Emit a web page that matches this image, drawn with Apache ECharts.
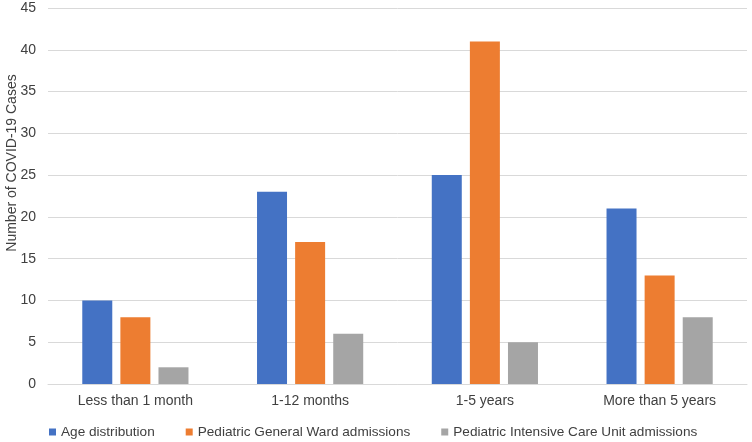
<!DOCTYPE html>
<html><head><meta charset="utf-8">
<script src="https://cdn.jsdelivr.net/npm/echarts@6/dist/echarts.min.js"></script>
<style>html,body{margin:0;padding:0;background:#fff}#c{width:752px;height:442px}</style>
</head><body><div id="c"></div>
<script>
const categories = ['Less than 1 month', '1-12 months', '1-5 years', 'More than 5 years'];
const ageDistribution = [10, 23, 25, 21];
const generalWard = [8, 17, 41, 13];
const icu = [2, 6, 5, 8];
const seriesNames = ['Age distribution', 'Pediatric General Ward admissions', 'Pediatric Intensive Care Unit admissions'];
const yTitle = 'Number of COVID-19 Cases';
const colors = ['#4472C4', '#ED7D31', '#A5A5A5'];
const font = 'Liberation Sans, Arial, sans-serif';
const chart = echarts.init(document.getElementById('c'));
const mk = (name, data, i) => ({
  name, type: 'bar', data, barWidth: 30, barGap: '27%',
  itemStyle: { color: colors[i] }
});
chart.setOption({
  animation: false,
  textStyle: { fontFamily: font },
  grid: { left: 48, right: 5, top: 8, bottom: 58, containLabel: false, outerBoundsMode: 'none' },
  legend: {
    top: 420, left: 44, itemWidth: 7, itemHeight: 7, itemGap: 31,
    icon: 'rect',
    textStyle: { fontSize: 13.6, color: '#404040', fontFamily: font },
    data: seriesNames
  },
  graphic: [{
    type: 'text', x: 12, y: 163, rotation: Math.PI / 2,
    style: { text: yTitle, fontSize: 14, fill: '#404040', fontFamily: font, align: 'center', verticalAlign: 'middle' }
  }],
  xAxis: {
    type: 'category', data: categories,
    axisLine: { lineStyle: { color: '#D9D9D9' } },
    axisTick: { show: false },
    axisLabel: { fontSize: 14, color: '#404040', margin: 10, fontFamily: font }
  },
  yAxis: {
    type: 'value', min: 0, max: 45, interval: 5,
    axisLabel: { fontSize: 14, color: '#404040', margin: 12, fontFamily: font },
    splitLine: { lineStyle: { color: '#D9D9D9' } },
    axisLine: { show: false }, axisTick: { show: false }
  },
  series: [mk(seriesNames[0], ageDistribution, 0), mk(seriesNames[1], generalWard, 1), mk(seriesNames[2], icu, 2)]
});
</script></body></html>
